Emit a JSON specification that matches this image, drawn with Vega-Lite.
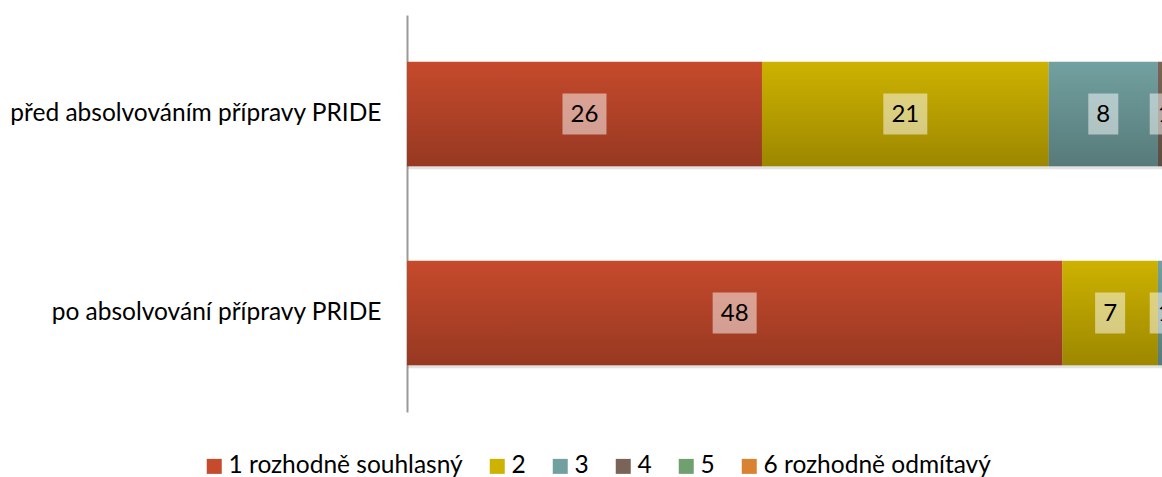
{
  "$schema": "https://vega.github.io/schema/vega-lite/v6.json",
  "autosize": {"type": "none"},
  "padding": {"left": 407, "top": 15, "right": 0, "bottom": 65},
  "width": 755,
  "height": 397,
  "background": "white",
  "config": {
    "view": {"stroke": null},
    "font": "Lato"
  },
  "data": {
    "values": [
      {"group": "před absolvováním přípravy PRIDE", "cat": "1 rozhodně souhlasný", "k": 1, "value": 26},
      {"group": "před absolvováním přípravy PRIDE", "cat": "2", "k": 2, "value": 21},
      {"group": "před absolvováním přípravy PRIDE", "cat": "3", "k": 3, "value": 8},
      {"group": "před absolvováním přípravy PRIDE", "cat": "4", "k": 4, "value": 1},
      {"group": "po absolvování přípravy PRIDE", "cat": "1 rozhodně souhlasný", "k": 1, "value": 48},
      {"group": "po absolvování přípravy PRIDE", "cat": "2", "k": 2, "value": 7},
      {"group": "po absolvování přípravy PRIDE", "cat": "3", "k": 3, "value": 1}
    ]
  },
  "transform": [
    {"stack": "value", "groupby": ["group"], "sort": [{"field": "k", "order": "ascending"}], "as": ["x0", "x1"]},
    {"calculate": "(datum.x0 + datum.x1) / 2", "as": "mid"}
  ],
  "encoding": {
    "y": {
      "field": "group",
      "type": "nominal",
      "sort": ["před absolvováním přípravy PRIDE", "po absolvování přípravy PRIDE"],
      "scale": {"paddingInner": 0.475, "paddingOuter": 0.235},
      "axis": {
        "title": null,
        "ticks": false,
        "labelPadding": 26,
        "labelFontSize": 24.5,
        "labelFont": "Lato",
        "labelColor": "#000000",
        "labelLimit": 0,
        "domainColor": "#9a9a9a",
        "domainWidth": 2
      }
    }
  },
  "layer": [
    {
      "mark": {"type": "bar", "clip": true, "color": "#8c8c8c", "opacity": 0.25, "yOffset": 3},
      "encoding": {
        "x": {"field": "x0", "type": "quantitative", "scale": {"domain": [0, 55.3], "nice": false, "zero": true}, "axis": null},
        "x2": {"field": "x1"}
      }
    },
    {
      "mark": {"type": "bar", "clip": true},
      "encoding": {
        "x": {"field": "x0", "type": "quantitative", "axis": null},
        "x2": {"field": "x1"},
        "color": {
          "field": "cat",
          "type": "nominal",
          "scale": {
            "domain": ["1 rozhodně souhlasný", "2", "3", "4", "5", "6 rozhodně odmítavý"],
            "range": ["#C64A2C", "#CDB200", "#72A0A0", "#7A6458", "#70A070", "#D98230"]
          },
          "legend": {
            "title": null,
            "orient": "none",
            "legendX": -205,
            "legendY": 439,
            "direction": "horizontal",
            "columns": 6,
            "columnPadding": 22,
            "symbolType": "square",
            "symbolSize": 225,
            "symbolStrokeWidth": 0,
            "labelFontSize": 24.5,
            "labelFont": "Lato",
            "labelColor": "#000000",
            "labelOffset": 2,
            "labelLimit": 0
          }
        }
      }
    },
    {
      "mark": {
        "type": "bar",
        "clip": true,
        "fill": {
          "gradient": "linear",
          "x1": 0, "y1": 0, "x2": 0, "y2": 1,
          "stops": [
            {"offset": 0, "color": "rgba(0,0,0,0)"},
            {"offset": 1, "color": "rgba(0,0,0,0.24)"}
          ]
        }
      },
      "encoding": {
        "x": {"field": "x0", "type": "quantitative", "axis": null},
        "x2": {"field": "x1"}
      }
    },
    {
      "mark": {"type": "point", "filled": true, "color": "white", "opacity": 0.5, "strokeWidth": 0, "size": 1681},
      "encoding": {
        "x": {"field": "mid", "type": "quantitative", "axis": null},
        "shape": {
          "condition": {"test": "datum.value >= 10", "value": "M-1.073,-1L1.073,-1L1.073,1L-1.073,1Z"},
          "value": "M-0.732,-1L0.732,-1L0.732,1L-0.732,1Z"
        }
      }
    },
    {
      "mark": {"type": "text", "fontSize": 24, "font": "Lato", "color": "#000000", "baseline": "middle", "dy": 1},
      "encoding": {
        "x": {"field": "mid", "type": "quantitative", "axis": null},
        "text": {"field": "value", "type": "quantitative"}
      }
    }
  ]
}
